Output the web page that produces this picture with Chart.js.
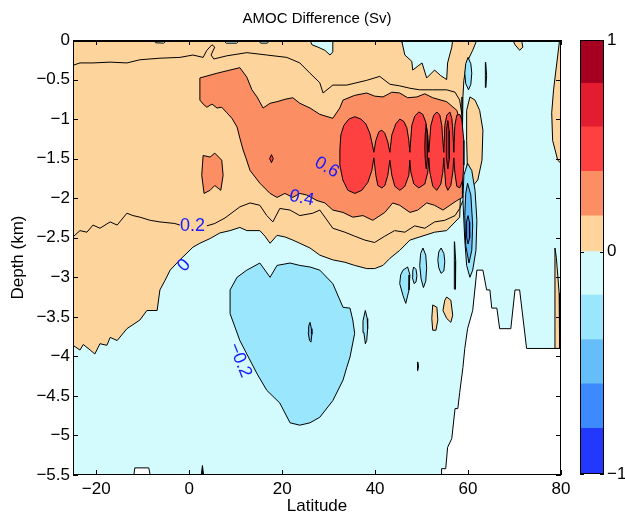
<!DOCTYPE html>
<html><head><meta charset="utf-8">
<script src="https://cdn.jsdelivr.net/npm/chart.js@4.4.1/dist/chart.umd.min.js"></script>
<style>
html,body{margin:0;padding:0;background:#fff;}
#wrap{position:relative;width:625px;height:519px;}
canvas{position:absolute;left:0;top:0;}
</style></head><body>
<div id="wrap"><canvas id="main" width="625" height="519"></canvas><canvas id="cbar" width="625" height="519"></canvas></div>
<script>
// ---------- axis ranges / ticks ----------
const latMin = -25, latMax = 80;
const depthMin = -5.5, depthMax = 0;
const xTickValues = [-20, 0, 20, 40, 60, 80];
const yTickStep = 0.5;

// ---------- contour levels & colours ----------
const levelEdges = [-1, -0.8, -0.6, -0.4, -0.2, 0, 0.2, 0.4, 0.6, 0.8, 1];
const bandColors = ['#2238fd', '#3d8afd', '#66bef9', '#9ae7fd', '#d3fbfd',
                    '#fdd49b', '#fc8e63', '#fd4040', '#e41c2f', '#a50021'];
// colorbar band edges as drawn in the reference colorbar
const cbBandEdges = [-1, -0.79, -0.585, -0.38, -0.175, 0.025, 0.19, 0.395, 0.6, 0.8, 1];
const cbTickValues = [-1, 0.025, 1];
const cbTickLabels = ['\u22121', '0', '1'];

// ---------- regions [latitude, depth km] ----------
const domain = [[-25,0],[80,0],[80,-5.5],[-25,-5.5]];
const posMain = [[-25,0],[45.8,0],[45.8,-0.03],[46.4,-0.19],[47.9,-0.27],[48.1,-0.38],[49.2,-0.33],[50.1,-0.29],[51.1,-0.48],[52.8,-0.38],[54.1,-0.45],[55.4,-0.5],[55.6,-0.29],[56.5,-0.09],[56.7,0],[61.9,0],[61.0,-0.13],[59.7,-0.29],[59.1,-0.51],[58.9,-0.72],[58.7,-1.14],[58.7,-1.56],[58.4,-1.90],[58.2,-2.24],[55.4,-2.41],[52.8,-2.43],[49.6,-2.49],[47.5,-2.53],[45.3,-2.66],[43.2,-2.76],[41.7,-2.85],[39.9,-2.89],[38.2,-2.89],[35.6,-2.85],[33.5,-2.81],[30.9,-2.78],[28.1,-2.72],[26,-2.63],[23.8,-2.57],[22.3,-2.53],[20.6,-2.49],[18.9,-2.47],[17.4,-2.57],[16.3,-2.48],[15.2,-2.41],[12.4,-2.41],[10.9,-2.37],[8.8,-2.41],[6.6,-2.44],[4.5,-2.51],[2.3,-2.57],[0.8,-2.62],[-2,-2.78],[-4.1,-2.91],[-5.2,-3.04],[-6.3,-3.16],[-6.9,-3.42],[-9.1,-3.42],[-10.6,-3.54],[-13.4,-3.65],[-15.5,-3.80],[-17,-3.76],[-17.7,-3.86],[-19.2,-3.84],[-20.3,-3.97],[-21.3,-3.92],[-22.8,-3.85],[-23.5,-3.92],[-25,-3.86]];
const negTop1 = [[-7.8,0],[-7.2,-0.035],[-5.5,-0.04],[-4.8,0]];
const negTop2 = [[7.3,0],[8,-0.04],[10.2,-0.04],[10.9,0]];
const negTop3 = [[14.8,0],[15.4,-0.04],[16.8,-0.04],[17.4,0]];
const negTop4 = [[26,0],[26.4,-0.06],[27.7,-0.09],[29.2,-0.13],[30.3,-0.19],[30.9,-0.15],[30.9,0]];
const posTopRight = [[69.6,0],[70.1,-0.06],[71.1,-0.13],[71.8,-0.09],[71.5,0]];
const posEdge80 = [[79.7,0],[79.1,-0.29],[78.4,-0.63],[78,-0.92],[78.2,-1.27],[79.3,-1.52],[80,-1.56],[80,0]];
const posLat61 = [[60.4,-0.72],[61.5,-0.76],[62.5,-0.89],[63.2,-1.14],[63,-1.52],[62.1,-1.77],[60.8,-1.86],[59.9,-1.71],[59.7,-1.27],[59.7,-0.89]];
const posDeepA = [[52.4,-3.35],[53.3,-3.38],[53.5,-3.54],[53.1,-3.67],[52.4,-3.67],[52.2,-3.52]];
const posDeepB = [[55.4,-3.25],[56.3,-3.29],[56.7,-3.48],[56.3,-3.57],[55.4,-3.52],[54.6,-3.42],[55,-3.29]];
const posSliver79 = [[78.7,-2.63],[79.0,-2.75],[79.6,-3.2],[79.7,-3.9],[78.7,-3.9]];
const pos04Main = [[2.3,-0.48],[6,-0.42],[10.9,-0.35],[12.4,-0.47],[13.5,-0.63],[14.6,-0.72],[15.9,-0.86],[17.4,-0.80],[18.9,-0.78],[20.6,-0.75],[22.3,-0.73],[23.8,-0.80],[26,-0.86],[28.1,-0.94],[30.9,-0.99],[32.4,-0.86],[33.1,-0.76],[35.6,-0.70],[38.2,-0.67],[39.9,-0.71],[41.7,-0.72],[43.6,-0.66],[45.3,-0.67],[47,-0.73],[49,-0.72],[50.7,-0.68],[52.4,-0.73],[55.4,-0.78],[57.6,-0.89],[58.7,-1.14],[58.9,-1.56],[58.7,-1.99],[57.6,-2.03],[56.1,-2.09],[54.6,-2.15],[52.8,-2.09],[51.1,-2.06],[49.2,-2.15],[47.5,-2.18],[45.3,-2.09],[43.8,-2.06],[42.1,-2.18],[39.5,-2.28],[37.4,-2.22],[35.2,-2.24],[33.1,-2.18],[30.9,-2.15],[29.2,-2.06],[27.5,-2.03],[25.3,-1.96],[23.8,-1.94],[22.3,-1.99],[20.6,-1.94],[18.9,-1.99],[17.4,-1.94],[15.2,-1.81],[13.1,-1.65],[12.2,-1.49],[11.6,-1.39],[10.9,-1.24],[10.3,-1.10],[9.2,-0.99],[8.1,-0.92],[7.0,-0.85],[6,-0.86],[4.9,-0.81],[3.8,-0.85],[3,-0.81],[2.3,-0.76]];
const pos04Small = [[3,-1.46],[4.5,-1.48],[5.5,-1.43],[7,-1.52],[7.3,-1.71],[6.8,-1.90],[5.5,-1.84],[4.5,-1.90],[3.2,-1.94],[2.7,-1.71]];
const pos06Main = [[32.42,-1.39],[32.63,-1.20],[33.28,-1.08],[34.35,-1.0],[35.65,-0.97],[36.94,-1.0],[38.01,-1.06],[38.87,-1.18],[39.30,-1.29],[39.73,-1.42],[40.16,-1.27],[40.81,-1.16],[41.45,-1.14],[42.10,-1.18],[42.74,-1.29],[43.17,-1.42],[43.60,-1.20],[44.46,-1.06],[45.32,-1.0],[46.18,-1.03],[46.83,-1.11],[47.26,-1.27],[47.47,-1.42],[47.90,-1.08],[48.55,-0.96],[49.41,-0.91],[50.27,-0.94],[50.91,-1.04],[51.34,-1.20],[51.56,-1.42],[51.99,-1.08],[52.63,-0.95],[53.28,-0.91],[53.92,-0.95],[54.35,-1.08],[54.57,-1.27],[54.78,-1.42],[55.0,-1.08],[55.43,-0.95],[56.08,-0.91],[56.51,-0.99],[56.72,-1.14],[56.94,-1.42],[57.15,-1.08],[57.58,-0.95],[58.23,-0.94],[58.66,-1.01],[59.09,-1.27],[59.09,-1.58],[58.87,-1.77],[58.23,-1.87],[57.58,-1.85],[57.15,-1.67],[56.94,-1.49],[56.72,-1.67],[56.29,-1.84],[55.65,-1.90],[55.21,-1.84],[55.0,-1.67],[54.78,-1.49],[54.57,-1.67],[54.14,-1.82],[53.28,-1.90],[52.42,-1.85],[51.77,-1.67],[51.56,-1.49],[51.34,-1.67],[50.70,-1.82],[49.41,-1.87],[48.33,-1.82],[47.69,-1.67],[47.47,-1.52],[47.26,-1.71],[46.40,-1.85],[45.32,-1.90],[44.25,-1.85],[43.60,-1.71],[43.17,-1.52],[42.74,-1.71],[42.10,-1.84],[41.45,-1.87],[40.59,-1.84],[40.16,-1.71],[39.73,-1.49],[39.30,-1.65],[38.44,-1.80],[37.15,-1.90],[35.65,-1.94],[34.14,-1.90],[33.06,-1.77],[32.42,-1.58]];
const pos06Dot = [[17.7,-1.45],[18.1,-1.5],[17.7,-1.55],[17.3,-1.5]];
const pos08A = [[51.0,-1.07],[51.22,-1.2],[51.3,-1.35],[51.22,-1.5],[51.0,-1.63],[50.78,-1.5],[50.7,-1.35],[50.78,-1.2]];
const pos08B = [[55.65,-1.02],[55.92,-1.15],[56.02,-1.33],[55.92,-1.5],[55.65,-1.63],[55.38,-1.5],[55.28,-1.33],[55.38,-1.15]];
const neg02Main = [[8.8,-3.16],[10.3,-3.0],[12.4,-2.91],[15.2,-2.82],[17.4,-3.0],[18.9,-2.85],[21.7,-2.82],[23.8,-2.85],[26,-2.87],[28.1,-2.91],[30.9,-3.08],[33.1,-3.38],[34.6,-3.39],[35.2,-3.54],[35.6,-3.71],[34.6,-4.01],[33.9,-4.14],[33.1,-4.3],[30.9,-4.56],[28.1,-4.77],[26,-4.84],[23.8,-4.87],[21.7,-4.84],[19.5,-4.59],[16.7,-4.43],[14.6,-4.22],[10.9,-3.8],[8.8,-3.46]];
const neg02Lat38 = [[37.9,-3.42],[38.3,-3.52],[38.4,-3.65],[38.2,-3.8],[37.9,-3.84],[37.6,-3.7],[37.4,-3.55]];
const neg02Lat46 = [[46,-2.91],[47,-2.87],[47.5,-2.97],[47.3,-3.16],[46.6,-3.33],[46,-3.23],[45.3,-3.08],[45.5,-2.97]];
const neg02Lat48 = [[48.3,-2.87],[48.8,-2.9],[49,-2.98],[48.8,-3.06],[48.4,-3.08],[48,-3.0],[48.1,-2.92]];
const neg02Lat50 = [[50.3,-2.63],[50.9,-2.72],[51.1,-2.88],[50.9,-3.05],[50.4,-3.13],[49.9,-3.02],[49.6,-2.85],[49.8,-2.70]];
const neg02Lat54 = [[54.2,-2.63],[54.8,-2.70],[55,-2.8],[54.8,-2.92],[54.2,-2.95],[53.7,-2.88],[53.5,-2.78],[53.7,-2.68]];
const neg02Lat57 = [[57.1,-2.55],[57.35,-2.8],[57.3,-3.15],[57.1,-3.15],[57.0,-2.8]];
const neg02Lat60 = [[59.9,-1.56],[60.8,-1.65],[61.5,-1.90],[61.9,-2.28],[61.7,-2.66],[61,-2.91],[60.4,-3.0],[59.7,-2.85],[59.3,-2.53],[58.9,-2.03],[59.1,-1.71]];
const neg02Top60 = [[60,-0.22],[60.6,-0.3],[60.8,-0.42],[60.6,-0.56],[60.1,-0.63],[59.5,-0.55],[59.3,-0.42],[59.5,-0.3]];
const neg02Top64 = [[63.8,-0.28],[64,-0.45],[63.85,-0.6],[63.65,-0.45]];
const neg02Tiny = [[49.2,-4.07],[49.35,-4.12],[49.2,-4.18],[49.05,-4.12]];
const neg04Lat26 = [[26,-3.57],[26.3,-3.65],[26.4,-3.72],[26.2,-3.82],[25.9,-3.8],[25.6,-3.7],[25.7,-3.62]];
const neg04Lat60 = [[59.9,-1.81],[60.6,-1.96],[61,-2.34],[60.8,-2.66],[60.2,-2.82],[59.5,-2.6],[59.3,-2.22],[59.5,-1.94]];
const neg06Lat60 = [[60,-2.22],[60.3,-2.3],[60.4,-2.4],[60.3,-2.5],[60,-2.58],[59.7,-2.5],[59.6,-2.4],[59.7,-2.3]];
const landNordic = [[54.3,-5.5],[54.3,-5.42],[55.2,-5.42],[55.6,-5.15],[56.5,-5.04],[57.2,-4.66],[57.8,-4.66],[58.2,-4.46],[58.9,-4.14],[59.3,-3.9],[59.9,-3.65],[61,-3.42],[61.9,-2.91],[63.2,-2.91],[64,-3.16],[64.7,-3.16],[65.1,-3.39],[66.2,-3.39],[66.8,-3.65],[69.2,-3.65],[70.1,-3.16],[71.1,-3.16],[72.6,-3.9],[80,-3.9],[80,-5.5]];
const landRidgeA = [[-11.9,-5.5],[-11.7,-5.41],[-8.7,-5.41],[-8.4,-5.5]];
const landRidgeB = [[2.6,-5.5],[2.85,-5.38],[3.1,-5.5]];
// contour lines inside one colour band
const line02Upper = [[-25,-0.32],[-23.5,-0.29],[-20.7,-0.29],[-17,-0.28],[-13.4,-0.29],[-10.6,-0.25],[-6.3,-0.23],[-2,-0.22],[0.8,-0.19],[3,-0.22],[3.8,-0.13],[4.9,-0.06],[5.5,-0.09],[4.7,-0.19],[5.3,-0.24],[8.1,-0.20],[12.4,-0.16],[16.7,-0.19],[21,-0.22],[23.8,-0.29],[26,-0.42],[28.1,-0.54],[28.8,-0.67],[30.9,-0.57],[33.9,-0.57],[38.2,-0.51],[41,-0.46],[43.2,-0.56],[45.3,-0.58],[47.5,-0.61],[49.6,-0.63],[52.4,-0.63],[55.4,-0.63],[57.2,-0.66],[58.2,-0.76],[58.7,-0.95]];
const line02LowerW = [[-25,-2.49],[-23.5,-2.41],[-22,-2.43],[-20.7,-2.34],[-19.2,-2.38],[-17,-2.30],[-15.5,-2.34],[-13.4,-2.19],[-12.1,-2.22],[-10.6,-2.24],[-8.4,-2.28],[-6.3,-2.30],[-3.1,-2.32],[-2,-2.34]];
const line02LowerE = [[3.8,-2.35],[5.5,-2.32],[7.7,-2.25],[10.9,-2.11],[13.1,-2.06],[15.2,-2.09],[16.7,-2.22],[18,-2.30],[19.5,-2.13],[21.7,-2.15],[23.8,-2.22],[26.6,-2.19],[28.1,-2.15],[30.9,-2.38],[33.5,-2.43],[35.6,-2.48],[37.8,-2.53],[39.9,-2.56],[42.1,-2.48],[44.2,-2.41],[46.4,-2.43],[48.5,-2.35],[50.7,-2.38],[52.8,-2.30],[55,-2.28],[57.2,-2.22],[58.2,-2.13],[58.9,-2.03]];

// contour labels
const labelTexts = ['0.6', '0.4', '0.2', '0', '\u22120.2'];
const labelLats = [29.6, 24.2, 0.7, -1.1, 10.9];
const labelDepths = [-1.61, -2.0, -2.35, -2.85, -4.05];

// ---------- build datasets (bottom to top) ----------
const WHITE = '#ffffff';
const layers = [];
function addRegion(pts, color, border) {
  layers.push({ pts, fill: color, border: border === undefined ? 1 : border });
}
function addLine(pts) { layers.push({ pts, fill: null, border: 1 }); }

addRegion(domain, bandColors[4], 0);
addRegion(posMain, bandColors[5]);
[negTop1, negTop2, negTop3, negTop4].forEach(p => addRegion(p, bandColors[4]));
[posTopRight, posEdge80, posLat61, posDeepA, posDeepB, posSliver79].forEach(p => addRegion(p, bandColors[5]));
[pos04Main, pos04Small].forEach(p => addRegion(p, bandColors[6]));
[pos06Main, pos06Dot].forEach(p => addRegion(p, bandColors[7]));
[pos08A, pos08B].forEach(p => addRegion(p, bandColors[8]));
[neg02Main, neg02Lat38, neg02Lat46, neg02Lat48, neg02Lat50, neg02Lat54, neg02Lat57, neg02Lat60, neg02Top60, neg02Top64, neg02Tiny].forEach(p => addRegion(p, bandColors[3]));
[neg04Lat26, neg04Lat60].forEach(p => addRegion(p, bandColors[2]));
addRegion(neg06Lat60, bandColors[1]);
addRegion(landNordic, WHITE);
addRegion(landRidgeA, WHITE);
addRegion(landRidgeB, '#000000');
[line02Upper, line02LowerW, line02LowerE].forEach(addLine);

const N = layers.length;
const datasets = layers.map((L, i) => {
  const pts = L.pts.map(p => ({ x: p[0], y: p[1] }));
  if (L.fill) pts.push({ x: L.pts[0][0], y: L.pts[0][1] });
  return {
    data: pts,
    order: N - i,
    borderColor: '#000000',
    borderWidth: L.border,
    backgroundColor: L.fill || 'rgba(0,0,0,0)',
    fill: L.fill ? 'shape' : false,
    pointRadius: 0,
    pointHoverRadius: 0,
    tension: 0,
    borderJoinStyle: 'round'
  };
});

const FONT = "'Liberation Sans', Arial, Helvetica, sans-serif";
Chart.defaults.font.family = FONT;
Chart.defaults.color = '#000';

function fmt(v) {
  const r = Math.round(v * 10) / 10;
  return r < 0 ? '\u2212' + Math.abs(r) : String(r);
}

const framePlugin = {
  id: 'frame',
  afterDatasetsDraw(chart, args, opts) {
    const { ctx, chartArea: a } = chart;
    ctx.save();
    ctx.strokeStyle = '#000';
    ctx.lineWidth = 1;
    ctx.strokeRect(a.left + 0.5, a.top + 0.5, a.right - a.left - 1, a.bottom - a.top - 1);
    if (opts.topBold) {
      ctx.lineWidth = 2;
      ctx.beginPath(); ctx.moveTo(a.left, a.top + 1); ctx.lineTo(a.right, a.top + 1); ctx.stroke();
      ctx.lineWidth = 1;
    }
    const len = opts.len || 5;
    ctx.beginPath();
    if (opts.xTicks) {
      chart.scales.x.ticks.forEach(t => {
        const px = Math.round(chart.scales.x.getPixelForValue(t.value)) + 0.5;
        ctx.moveTo(px, a.bottom); ctx.lineTo(px, a.bottom - len);
        ctx.moveTo(px, a.top); ctx.lineTo(px, a.top + len);
      });
    }
    if (opts.yTicks) {
      chart.scales.y.ticks.forEach(t => {
        const py = Math.round(chart.scales.y.getPixelForValue(t.value)) + 0.5;
        ctx.moveTo(a.left, py); ctx.lineTo(a.left + len, py);
        ctx.moveTo(a.right, py); ctx.lineTo(a.right - len, py);
      });
    }
    ctx.stroke();
    ctx.restore();
  }
};

const labelPlugin = {
  id: 'clabels',
  afterDatasetsDraw(chart, args, opts) {
    if (!opts.enabled) return;
    const { ctx } = chart;
    const xs = chart.scales.x, ys = chart.scales.y;
    ctx.save();
    ctx.fillStyle = opts.color;
    ctx.font = opts.size + 'px ' + FONT;
    ctx.textAlign = 'center';
    ctx.textBaseline = 'middle';
    labelTexts.forEach((t, i) => {
      ctx.save();
      ctx.translate(xs.getPixelForValue(labelLats[i]), ys.getPixelForValue(labelDepths[i]));
      ctx.rotate(opts.angles[i] * Math.PI / 180);
      ctx.fillText(t, 0, 0);
      ctx.restore();
    });
    ctx.restore();
  }
};

new Chart(document.getElementById('main'), {
  type: 'line',
  data: { datasets },
  options: {
    responsive: false,
    animation: false,
    events: [],
    layout: { padding: { left: 0, right: 64, top: 0, bottom: 0 } },
    plugins: {
      legend: { display: false },
      tooltip: { enabled: false },
      title: {
        display: true, text: 'AMOC Difference (Sv)', fullSize: false, color: '#000',
        font: { size: 15, weight: 'normal' }, padding: { top: 10, bottom: 12 }
      },
      frame: { xTicks: true, yTicks: true, len: 5, topBold: true },
      clabels: { enabled: true, color: '#1a1aff', size: 18, angles: [30, 12, 0, -48, 68] }
    },
    scales: {
      x: {
        type: 'linear', min: latMin, max: latMax,
        afterBuildTicks: s => { s.ticks = xTickValues.map(v => ({ value: v })); },
        afterFit: s => { s.height = 44; },
        grid: { display: false, drawTicks: false },
        border: { display: false },
        ticks: { padding: 4, font: { size: 17 }, color: '#000', maxRotation: 0, autoSkip: false, callback: v => fmt(v) },
        title: { display: true, text: 'Latitude', color: '#000', font: { size: 17 }, padding: { top: 0, bottom: 2 } }
      },
      y: {
        type: 'linear', min: depthMin, max: depthMax,
        afterFit: s => { s.width = 73; },
        grid: { display: false, drawTicks: false },
        border: { display: false },
        ticks: { stepSize: yTickStep, padding: 3, font: { size: 17 }, color: '#000', autoSkip: false, callback: v => fmt(v) },
        title: { display: true, text: 'Depth (km)', color: '#000', font: { size: 17 }, padding: { top: 8, bottom: 0 } }
      }
    }
  },
  plugins: [framePlugin, labelPlugin]
});

// ---------- colorbar ----------
const cbDatasets = bandColors.map((c, i) => ({
  data: [[cbBandEdges[i], cbBandEdges[i + 1]]],
  backgroundColor: c,
  borderWidth: 0,
  grouped: false,
  barPercentage: 1,
  categoryPercentage: 1
}));

new Chart(document.getElementById('cbar'), {
  type: 'bar',
  data: { labels: [''], datasets: cbDatasets },
  options: {
    responsive: false,
    animation: false,
    events: [],
    layout: { padding: { left: 580, right: 0, top: 40, bottom: 45 } },
    plugins: {
      legend: { display: false },
      tooltip: { enabled: false },
      frame: { xTicks: false, yTicks: true, len: 4 },
      clabels: { enabled: false }
    },
    scales: {
      x: { display: false },
      y: {
        position: 'right', min: -1, max: 1,
        afterBuildTicks: s => { s.ticks = cbTickValues.map(v => ({ value: v })); },
        afterFit: s => { s.width = 21; },
        grid: { display: false, drawTicks: false },
        border: { display: false },
        ticks: {
          padding: 3, font: { size: 17 }, color: '#000', autoSkip: false,
          callback: (v, i) => cbTickLabels[i]
        }
      }
    }
  },
  plugins: [framePlugin, labelPlugin]
});
</script>
</body></html>
